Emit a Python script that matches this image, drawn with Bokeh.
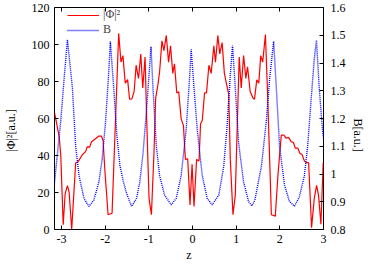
import math
from bokeh.plotting import figure
from bokeh.models import Range1d, LinearAxis, FixedTicker, Legend, LegendItem
from bokeh.embed import file_html
from bokeh.resources import INLINE

# ---- data ----
RED_Z = [-3.159, -3.10, -3.052, -3.016, -2.961, -2.916, -2.864, -2.825, -2.766, -2.675,
         -2.614, -2.523, -2.448, -2.410, -2.358, -2.312, -2.221, -2.144, -2.085, -2.047,
         -2.008, -1.933, -1.842, -1.690, -1.638, -1.593, -1.540, -1.486, -1.440, -1.388,
         -1.336, -1.291, -1.236, -1.184, -1.139, -1.086, -1.048, -0.995, -0.941, -0.882,
         -0.843, -0.791, -0.753, -0.700, -0.655, -0.600, -0.548, -0.503, -0.451, -0.412,
         -0.360, -0.315, -0.260, -0.208, -0.162, -0.110, -0.056, -0.010, 0.035, 0.094,
         0.149, 0.185, 0.224, 0.276, 0.321, 0.376, 0.428, 0.489, 0.526, 0.580,
         0.625, 0.678, 0.730, 0.775, 0.830, 0.866, 0.927, 0.980, 1.018, 1.070,
         1.116, 1.170, 1.222, 1.261, 1.320, 1.381, 1.420, 1.472, 1.518, 1.563,
         1.608, 1.670, 1.715, 1.767, 1.806, 1.896, 1.956, 2.033, 2.092, 2.146,
         2.199, 2.260, 2.312, 2.354, 2.410, 2.464, 2.510, 2.562, 2.614, 2.659,
         2.727, 2.789, 2.841, 2.886, 2.941, 2.993]
RED_PHI2 = [63, 56, 50, 40, 2.6, 19.3, 23.7, 20.2, 0, 36,
            36.8, 40.4, 42.1, 44.7, 44.5, 47.4, 49.1, 50.5, 50.5, 48,
            32.6, 8, 8.8, 106, 90.5, 94, 79.1, 81, 70.4, 70.6,
            74.7, 88.8, 81.7, 94.9, 76.5, 93.2, 58.9, 16.8, 8, 41.4,
            71.2, 78.3, 85.3, 102, 96.7, 104.9, 90.5, 99.3, 84.4, 89.6,
            73.8, 74.4, 59.8, 56.3, 37.9, 38.2, 13.3, 35.3, 12.5, 37.9,
            37, 57.2, 58.9, 73.8, 73.8, 88.8, 84.4, 99.3, 90.5, 104.9,
            94.9, 101, 84.4, 79.1, 73, 37.9, 8, 18.6, 50.2, 93.2,
            76.5, 94, 81.7, 87.9, 74.7, 71.2, 70.4, 80.9, 79.1, 94,
            90.5, 105.4, 76.5, 37.9, 8, 7.2, 29.1, 51, 51, 49.3,
            49.8, 47.5, 47, 44, 44, 41, 40.5, 37, 36.1, 36.1,
            1, 16.8, 23.8, 18.6, 2.8, 36.1]

BLUE_Z = [-3.159, -3.091, -3.016, -2.939, -2.864,
          -2.750, -2.675, -2.598, -2.485, -2.372, -2.259, -2.144, -2.069, -1.994, -1.917, -1.881,
          -1.804, -1.729, -1.661, -1.586, -1.509, -1.395, -1.281, -1.207, -1.132, -1.054, -0.980, -0.950,
          -0.905, -0.827, -0.753, -0.639, -0.487, -0.373, -0.260, -0.146, -0.072, -0.030,
          0.035, 0.110, 0.224, 0.337, 0.451, 0.603, 0.716, 0.791, 0.866, 0.917,
          0.980, 1.057, 1.170, 1.284, 1.359, 1.427, 1.579, 1.692, 1.767, 1.858,
          1.920, 1.994, 2.108, 2.221, 2.335, 2.448, 2.562, 2.637, 2.714, 2.789, 2.838,
          2.902, 2.977, 3.0]
BLUE_B = [0.97, 1.076, 1.193, 1.345, 1.484,
          1.31, 1.099, 0.994, 0.912, 0.883, 0.906, 0.971, 1.053, 1.181, 1.368, 1.477,
          1.31, 1.134, 1.03, 0.975, 0.93, 0.883, 0.912, 0.971, 1.076, 1.228, 1.392, 1.459,
          1.31, 1.099, 0.994, 0.924, 0.889, 0.912, 0.994, 1.158, 1.333, 1.449,
          1.31, 1.158, 0.994, 0.912, 0.889, 0.924, 1.029, 1.17, 1.357, 1.463,
          1.31, 1.111, 0.971, 0.901, 0.885, 0.905, 1.029, 1.193, 1.345, 1.478,
          1.31, 1.099, 0.959, 0.901, 0.884, 0.918, 0.994, 1.099, 1.263, 1.415, 1.483,
          1.31, 1.158, 1.13]

Z_TICKS = [-3, -2, -1, 0, 1, 2, 3]
PHI_TICKS = [0, 20, 40, 60, 80, 100, 120]
B_TICKS = [0.8, 0.9, 1.0, 1.1, 1.2, 1.3, 1.4, 1.5, 1.6]
B_LABELS = ["0.8", "0.9", "1", "1.1", "1.2", "1.3", "1.4", "1.5", "1.6"]

FONT = "Liberation Serif"
FS = "12px"
PAD = "\u00a0" * 8   # non-breaking spaces: nudge the rotated titles below the frame centre

p = figure(width=374, height=264, x_range=Range1d(-3.16, 3.0), y_range=Range1d(0, 120),
           output_backend="svg", toolbar_location=None,
           min_border_left=52, min_border_right=51, min_border_top=7, min_border_bottom=33)
p.extra_y_ranges = {"B": Range1d(0.8, 1.6)}
p.xgrid.visible = False
p.ygrid.visible = False
p.outline_line_color = "black"
p.outline_line_alpha = 1
p.outline_line_width = 1


def style(ax):
    ax.major_tick_in = 4
    ax.major_tick_out = 0
    ax.minor_tick_line_color = None
    ax.axis_line_color = None
    ax.major_tick_line_color = "black"
    ax.major_label_text_font = FONT
    ax.major_label_text_font_size = FS
    ax.major_label_text_color = "black"
    ax.axis_label_text_font = FONT
    ax.axis_label_text_font_size = FS
    ax.axis_label_text_font_style = "normal"
    ax.axis_label_text_color = "black"


xb = p.xaxis[0]
xb.ticker = FixedTicker(ticks=Z_TICKS)
xb.major_label_overrides = {t: str(t) for t in Z_TICKS}
xb.axis_label = "z"
style(xb)
xb.major_label_standoff = 5
xb.axis_label_standoff = 2

yl = p.yaxis[0]
yl.ticker = FixedTicker(ticks=PHI_TICKS)
yl.axis_label = "|Φ|²[a.u.]" + PAD
style(yl)
yl.major_label_standoff = 5
yl.axis_label_standoff = 11

yr = LinearAxis(y_range_name="B", ticker=FixedTicker(ticks=B_TICKS),
                major_label_overrides=dict(zip(B_TICKS, B_LABELS)),
                axis_label="B[a.u.]" + PAD)
style(yr)
yr.major_label_standoff = 7
yr.axis_label_standoff = 9
try:
    yr.axis_label_orientation = -math.pi / 2
except Exception:
    pass
p.add_layout(yr, "right")

xt = LinearAxis(ticker=FixedTicker(ticks=Z_TICKS),
                major_label_overrides={t: "" for t in Z_TICKS})
style(xt)
xt.major_label_standoff = 0
p.add_layout(xt, "above")

r_red = p.line(RED_Z, RED_PHI2, line_color="#ff0000", line_width=1.2)
r_blue = p.line(BLUE_Z, BLUE_B, y_range_name="B", line_color="#0000ff", line_width=1.4,
                line_dash="1 1")

legend = Legend(items=[LegendItem(label="|Φ|²", renderers=[r_red]),
                       LegendItem(label="B", renderers=[r_blue])],
                location=(13, 192), border_line_color=None, background_fill_alpha=0,
                label_text_font=FONT, label_text_font_size=FS,
                glyph_width=32, glyph_height=10, label_height=10, spacing=-10,
                padding=0, margin=0, label_standoff=4)
p.add_layout(legend)

open("out.html", "w").write(file_html(p, INLINE))
